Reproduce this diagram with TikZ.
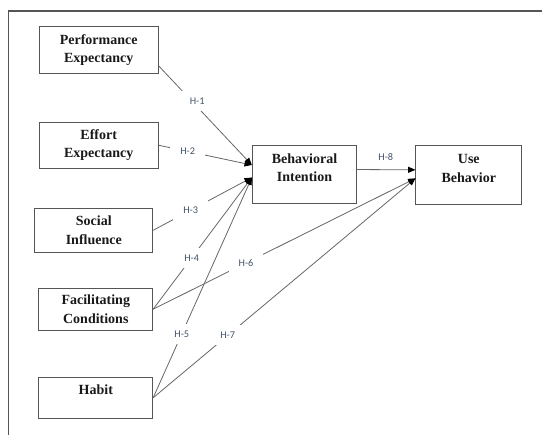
\documentclass[tikz,border=0pt]{standalone}
\usepackage{fontspec}
\setmainfont{Liberation Serif}
\newfontfamily\hypfont{Carlito}
\usetikzlibrary{arrows.meta}

\definecolor{framegray}{HTML}{555555}
\definecolor{linegray}{HTML}{666666}
\definecolor{hypblue}{HTML}{44546A}

\tikzset{
  construct/.style={draw=framegray, line width=0.7pt, align=center, inner sep=0pt,
    font=\fontsize{10.5}{13.9}\selectfont\bfseries, text=black!90},
  link/.style={draw=linegray, line width=0.6pt,
    -{Triangle[length=5.5pt,width=4.5pt,color=black]}},
  hyp/.style={fill=white, inner sep=0pt, minimum width=26pt, minimum height=15pt,
    font=\hypfont\fontsize{7.7}{9}\selectfont, text=hypblue}
}

\begin{document}
\begin{tikzpicture}[x=0.75pt, y=-0.75pt]
%\draw [lightgray, step=50](0,0) grid (542,435);
\useasboundingbox (0,0) rectangle (542,435);
\draw [framegray, line width=1.1pt](8.3,435) -- (8.3,11) -- (542,11);

\node [construct, minimum width=89.5pt, minimum height=35.5pt] (pe) at (98.7,50.3) {Performance\\Expectancy};
\node [construct, minimum width=89.5pt, minimum height=34.5pt] (ee) at (98.7,145.3) {Effort\\Expectancy};
\node [construct, minimum width=88.3pt, minimum height=33pt] (si) at (93.8,230.3) {Social\\Influence};
\node [construct, minimum width=85.3pt, minimum height=31.3pt] (fc) at (95.8,309.2) {Facilitating\\Conditions};
\node [construct, minimum width=85.3pt, minimum height=30.8pt, text depth=12pt] (hab) at (95.8,397.8) {Habit};

\node [construct, minimum width=78.3pt, minimum height=43.7pt, text depth=9.5pt] (bi) at (304.5,174.2) {Behavioral\\Intention};
\node [construct, minimum width=79.3pt, minimum height=44.3pt, text depth=9.5pt] (ub) at (468.8,174.5) {Use\\Behavior};

\draw [link] ([yshift=-11.8pt]pe.east) -- node [hyp, pos=0.355, xshift=4pt]{H-1} ([yshift=6.9pt]bi.west);
\draw [link] (ee.east) -- node [hyp, pos=0.31]{H-2} ([yshift=6.9pt]bi.west);
\draw [link] (si.east) -- node [hyp, pos=0.38]{H-3} ([yshift=-2.5pt]bi.west);
\draw [link] (fc.east) -- node [hyp, pos=0.39]{H-4} ([yshift=-2.5pt]bi.west);
\draw [link] (hab.east) -- node [hyp, pos=0.29]{H-5} ([yshift=-2.5pt]bi.west);
\draw [link] (fc.east) -- node [hyp, pos=0.354]{H-6} ([yshift=-2.9pt]ub.west);
\draw [link] (hab.east) -- node [hyp, pos=0.284]{H-7} ([yshift=-2.9pt]ub.west);
\draw [link] ([yshift=3.5pt]bi.east) -- node [hyp, pos=0.49, yshift=9.5pt]{H-8} ([yshift=3.5pt]ub.west);
\end{tikzpicture}
\end{document}
